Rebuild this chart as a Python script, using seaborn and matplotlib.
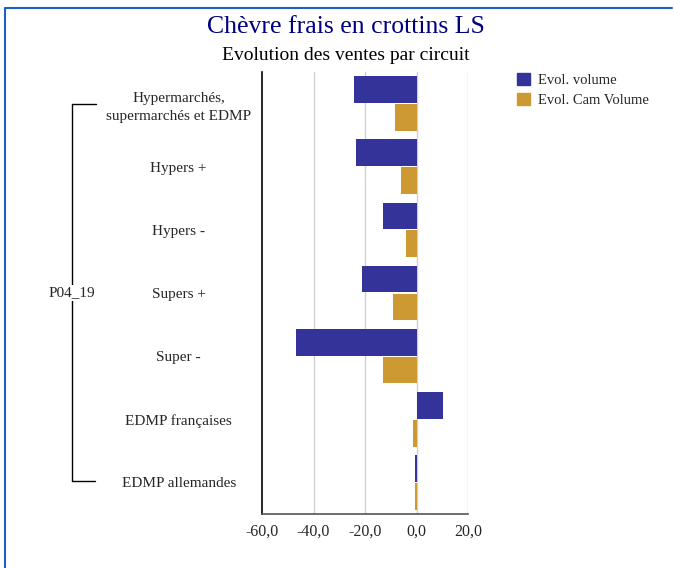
import matplotlib
matplotlib.use("Agg")
import matplotlib.pyplot as plt
import matplotlib.patches as mpatches
from matplotlib.lines import Line2D
import pandas as pd
import seaborn as sns

# Data
circuits = ["Hypermarchés,\nsupermarchés et EDMP", "Hypers +", "Hypers -",
            "Supers +", "Super -", "EDMP françaises", "EDMP allemandes"]
evol_volume = [-24.3, -23.5, -13.0, -21.2, -46.7, 10.2, -0.4]
evol_cam_volume = [-8.4, -6.1, -4.1, -9.2, -13.1, -1.4, -0.4]
series = ["Evol. volume", "Evol. Cam Volume"]
xticks = [-60, -40, -20, 0, 20]
group_label = "P04_19"

colors = ["#333399", "#CC9933"]

df = pd.DataFrame({
    "circuit": circuits * 2,
    "valeur": evol_volume + evol_cam_volume,
    "serie": [series[0]] * len(circuits) + [series[1]] * len(circuits),
})

sns.set_style("white")
plt.rcParams["font.family"] = ["Liberation Serif", "DejaVu Serif"]

fig = plt.figure(figsize=(6.74, 5.68), dpi=100)
ax = fig.add_axes([262 / 674, 1 - 514 / 568, 206 / 674, 442 / 568])

sns.barplot(data=df, x="valeur", y="circuit", hue="serie", orient="h",
            palette=colors, width=0.88, gap=0.04, ax=ax, legend=False,
            saturation=1, linewidth=0)

ax.set_xlim(-60, 20)
ax.set_ylim(6.5, -0.5)
ax.set_xticks(xticks)
ax.set_xticklabels([f"{v:.1f}".replace(".", ",") for v in xticks], fontsize=11.5)
ax.set_yticks(range(len(circuits)))
ax.set_yticklabels(circuits, ha="center", fontsize=11, linespacing=1.45)
ax.tick_params(axis="y", length=0, pad=60)
ax.tick_params(axis="x", length=0, pad=7)
ax.set_xlabel("")
ax.set_ylabel("")
for v in xticks[1:]:
    ax.axvline(v, color="#d0d0d0", lw=1, zorder=0)
for s in ["top", "right"]:
    ax.spines[s].set_visible(False)
ax.spines["left"].set_color("black")
ax.spines["left"].set_linewidth(1.2)
ax.spines["bottom"].set_color("#555555")
ax.spines["bottom"].set_linewidth(1.2)

# titles
fig.text(346 / 674, 1 - 27 / 568, "Chèvre frais en crottins LS", ha="center",
         va="center", fontsize=18.5, color="#000080")
fig.text(346 / 674, 1 - 56 / 568, "Evolution des ventes par circuit",
         ha="center", va="center", fontsize=14, color="black")

# bracket for the period label
def px(x, y):
    return x / 674, 1 - y / 568

for (x0, y0), (x1, y1) in [((72, 104), (72, 481)), ((72, 104), (96, 104)),
                           ((72, 481), (95, 481))]:
    a, b = px(x0, y0)
    c, d = px(x1, y1)
    fig.add_artist(Line2D([a, c], [b, d], color="black", lw=1))
fig.text(*px(72, 293), group_label, ha="center", va="center", fontsize=11,
         bbox=dict(facecolor="white", edgecolor="none", pad=1))

# frame around the chart
fig.add_artist(Line2D([5 / 674, 5 / 674, 672 / 674], [0, 1 - 8 / 568, 1 - 8 / 568],
                      color="#1f5fbf", lw=1.5))

# legend
handles = [mpatches.Patch(color=c, label=s) for c, s in zip(colors, series)]
fig.legend(handles=handles, loc="upper left", bbox_to_anchor=(504 / 674, 1 - 60 / 568),
           frameon=False, handlelength=0.9, handleheight=0.9, handletextpad=0.55,
           labelspacing=0.4, prop={"size": 10.5})

fig.savefig("out.png", dpi=100)
